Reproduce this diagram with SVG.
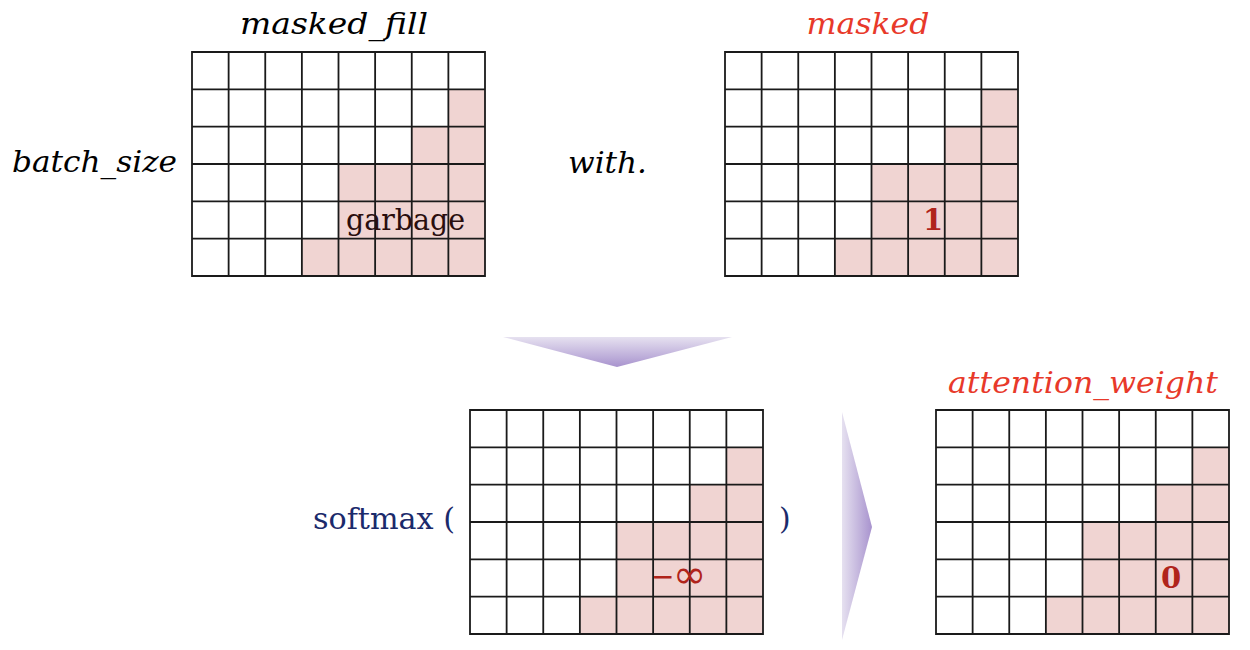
<svg xmlns="http://www.w3.org/2000/svg" xmlns:xlink="http://www.w3.org/1999/xlink" width="1250" height="650" viewBox="0 0 1250 650">
<style>
.lbl{font-family:"DejaVu Serif","Liberation Serif",serif;font-style:italic;font-size:30px;}
.red{fill:#E8392A;}
.blk{fill:#000;}
.reg{font-family:"DejaVu Serif","Liberation Serif",serif;font-size:30px;}
.num{font-family:"DejaVu Serif","Liberation Serif",serif;font-weight:bold;font-size:29px;fill:#B0241B;}
.inf{font-family:"DejaVu Sans",sans-serif;fill:#B0241B;}
.cell{fill:#F0D4D2;}
.lines{fill:none;stroke:#1a1a1a;stroke-width:1.8;}
</style>
<defs>
<g id="gridshape">
<rect x="0" y="0" width="293" height="224" fill="#fff"/>
<path class="cell" d="M256.375,37.333 H293 V224 H109.875 V186.667 H146.5 V112 H219.75 V74.667 H256.375 Z"/>
<path class="lines" d="M0,0 H293 V224 H0 Z M36.625,0 V224 M73.25,0 V224 M109.875,0 V224 M146.5,0 V224 M183.125,0 V224 M219.75,0 V224 M256.375,0 V224 M0,37.333 H293 M0,74.667 H293 M0,112 H293 M0,149.333 H293 M0,186.667 H293"/>
</g>
<linearGradient id="gdown" x1="0" y1="0" x2="0" y2="1">
<stop offset="0" stop-color="#E6E1F0"/>
<stop offset="1" stop-color="#A893CE"/>
</linearGradient>
<linearGradient id="gright" x1="0" y1="0" x2="1" y2="0">
<stop offset="0" stop-color="#E6E1F0"/>
<stop offset="1" stop-color="#A893CE"/>
</linearGradient>
</defs>

<g id="node-masked-fill">
<use xlink:href="#gridshape" x="192" y="52"/>
<text class="lbl blk" x="334" y="34" text-anchor="middle" textLength="188" lengthAdjust="spacingAndGlyphs">masked_fill</text>
<text class="reg" x="346" y="230" fill="#2A0E0E" textLength="119" lengthAdjust="spacingAndGlyphs">garbage</text>
</g>

<g id="node-batch-size">
<text class="lbl blk" x="12" y="172" textLength="165" lengthAdjust="spacingAndGlyphs">batch_size</text>
</g>

<g id="node-with">
<text class="lbl blk" x="568" y="173" textLength="79" lengthAdjust="spacingAndGlyphs">with.</text>
</g>

<g id="node-masked">
<use xlink:href="#gridshape" x="725" y="52"/>
<text class="lbl red" x="868" y="34" text-anchor="middle" textLength="123" lengthAdjust="spacingAndGlyphs">masked</text>
<text class="num" x="933" y="230" text-anchor="middle">1</text>
</g>

<g id="node-softmax">
<use xlink:href="#gridshape" x="470" y="410"/>
<text class="reg" x="313" y="529" fill="#1B2A6B" textLength="142" lengthAdjust="spacingAndGlyphs">softmax (</text>
<text class="reg" x="779" y="529" fill="#1B2A6B">)</text>
<text class="inf" x="651" y="586" font-size="28">−<tspan x="673" y="588" font-size="40">∞</tspan></text>
</g>

<g id="node-attention-weight">
<use xlink:href="#gridshape" x="936" y="410"/>
<text class="lbl red" x="1083" y="393" text-anchor="middle" textLength="270" lengthAdjust="spacingAndGlyphs">attention_weight</text>
<text class="num" x="1171" y="588" text-anchor="middle">0</text>
</g>

<g id="connectors">
<polygon points="503,337 732,337 617,367" fill="url(#gdown)"/>
<polygon points="842,412 872,527 842,640" fill="url(#gright)"/>
</g>
</svg>
